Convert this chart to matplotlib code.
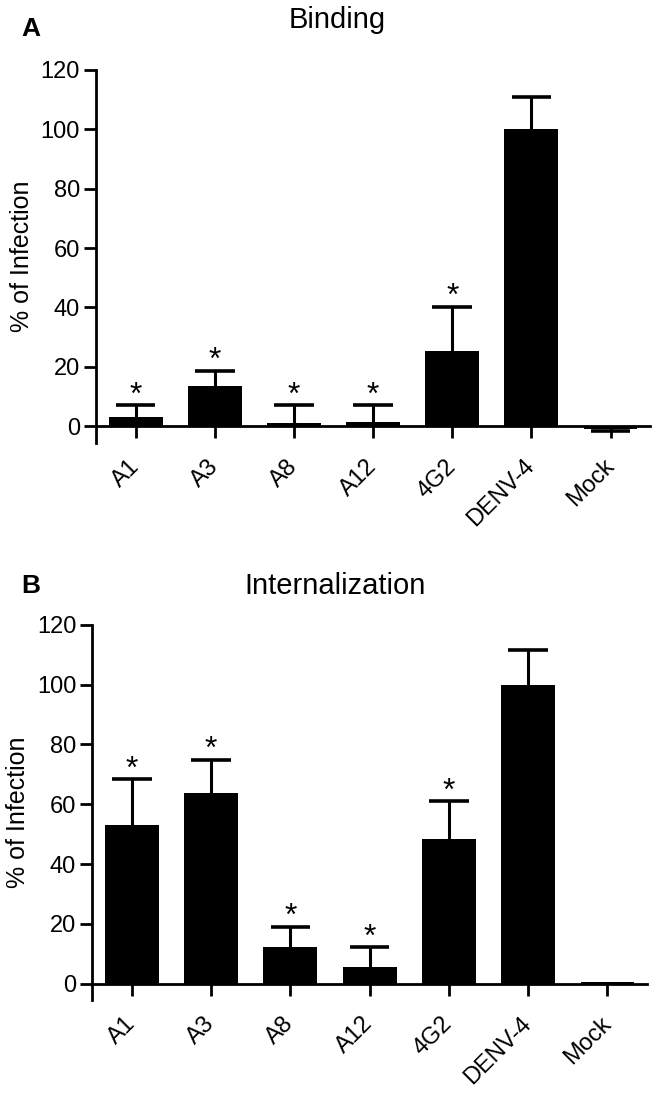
import matplotlib.pyplot as plt
import numpy as np

plt.rcParams['font.family'] = ['Liberation Sans', 'DejaVu Sans']

groups = ['A1', 'A3', 'A8', 'A12', '4G2', 'DENV-4', 'Mock']

binding = [2.9, 13.6, 1.1, 1.4, 25.2, 100.0, -1.0]
binding_err = [4.2, 5.0, 6.0, 5.6, 15.0, 11.0, 0.5]
binding_sig = [True, True, True, True, True, False, False]

intern = [53.2, 63.8, 12.2, 5.4, 48.3, 100.0, 0.5]
intern_err = [15.1, 11.1, 6.8, 6.7, 12.7, 11.5, 0.0]
intern_sig = [True, True, True, True, True, False, False]

fig = plt.figure(figsize=(6.58, 10.97), dpi=100)
ax1 = fig.add_axes([0.146, 0.5962, 0.842, 0.340])
ax2 = fig.add_axes([0.140, 0.0884, 0.8435, 0.342])


def panel(ax, vals, errs, sig, ymin):
    x = np.arange(len(groups))
    vals = np.array(vals)
    errs = np.array(errs)
    ax.spines['top'].set_visible(False)
    ax.spines['right'].set_visible(False)
    ax.spines['bottom'].set_position(('data', 0))
    ax.spines['left'].set_linewidth(2)
    ax.spines['bottom'].set_linewidth(2)

    ax.bar(x, vals, width=0.68, color='black', zorder=3)
    # one-sided error bars, away from zero
    ends = vals + np.sign(vals + 1e-9) * errs
    has = errs > 0
    ax.vlines(x[has], vals[has], ends[has], color='black', lw=2.2, zorder=2)
    ax.hlines(ends[has], x[has] - 0.25, x[has] + 0.25, color='black', lw=2.6, zorder=2)
    for xi, e, s in zip(x, ends, sig):
        if s:
            ax.text(xi, e + 3.2, '*', ha='center', va='center', fontsize=23)

    ax.set_xlim(-0.5, 6.5)
    ax.set_ylim(ymin, 120)
    ax.set_yticks(np.arange(0, 121, 20))
    ax.set_xticks(x)
    ax.set_xticklabels(groups, rotation=45, ha='right', va='center',
                       rotation_mode='anchor')
    ax.tick_params(axis='both', length=8.5, width=2, labelsize=17, direction='out')
    ax.tick_params(axis='y', pad=3)
    ax.tick_params(axis='x', pad=18)
    ax.set_ylabel('% of Infection', fontsize=18, labelpad=5)


panel(ax1, binding, binding_err, binding_sig, -5.7)
panel(ax2, intern, intern_err, intern_sig, -5.5)

fig.text(0.512, 1 - 20 / 1097, 'Binding', ha='center', va='center', fontsize=21)
fig.text(0.509, 1 - 586 / 1097, 'Internalization', ha='center', va='center', fontsize=21)
fig.text(0.032, 1 - 29 / 1097, 'A', ha='left', va='center', fontsize=19, fontweight='bold')
fig.text(0.032, 1 - 586 / 1097, 'B', ha='left', va='center', fontsize=19, fontweight='bold')

fig.savefig('out.png', dpi=100)
